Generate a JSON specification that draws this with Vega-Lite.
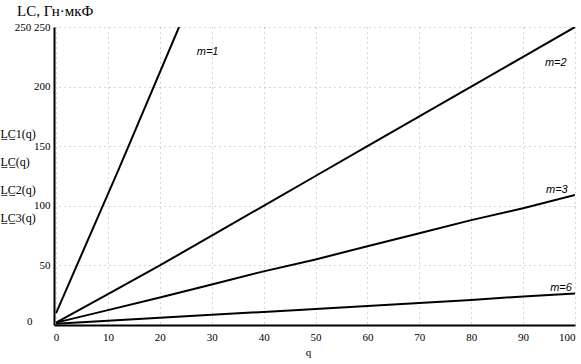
{
  "$schema": "https://vega.github.io/schema/vega-lite/v6.json",
  "width": 521,
  "height": 298,
  "autosize": {"type": "none"},
  "padding": {"left": 54, "top": 27, "right": 6, "bottom": 39},
  "background": "white",
  "title": {
    "text": "LC, Гн·мкФ",
    "anchor": "start",
    "frame": "group",
    "dx": -37,
    "offset": -10,
    "font": "Liberation Serif",
    "fontSize": 15,
    "fontWeight": "normal",
    "color": "black",
    "baseline": "alphabetic"
  },
  "config": {
    "view": {"stroke": null},
    "axis": {
      "labelFont": "Liberation Serif",
      "labelFontSize": 11,
      "labelColor": "black",
      "titleFont": "Liberation Serif",
      "titleFontWeight": "normal",
      "titleColor": "black",
      "domainColor": "black",
      "domainWidth": 2,
      "ticks": false,
      "gridColor": "#777",
      "gridDash": [1, 4],
      "gridWidth": 1,
      "gridOpacity": 0.6
    }
  },
  "datasets": {
    "curves": [
      {"m": "m=1", "q": 0, "LC": 10},
      {"m": "m=1", "q": 12, "LC": 130},
      {"m": "m=1", "q": 23.7, "LC": 250},
      {"m": "m=2", "q": 0, "LC": 2},
      {"m": "m=2", "q": 10, "LC": 26},
      {"m": "m=2", "q": 20, "LC": 50},
      {"m": "m=2", "q": 30, "LC": 75},
      {"m": "m=2", "q": 40, "LC": 100},
      {"m": "m=2", "q": 50, "LC": 125},
      {"m": "m=2", "q": 60, "LC": 150},
      {"m": "m=2", "q": 70, "LC": 175},
      {"m": "m=2", "q": 80, "LC": 200},
      {"m": "m=2", "q": 90, "LC": 225},
      {"m": "m=2", "q": 100, "LC": 250},
      {"m": "m=3", "q": 0, "LC": 2},
      {"m": "m=3", "q": 10, "LC": 12.5},
      {"m": "m=3", "q": 20, "LC": 23},
      {"m": "m=3", "q": 30, "LC": 34},
      {"m": "m=3", "q": 40, "LC": 45},
      {"m": "m=3", "q": 50, "LC": 55},
      {"m": "m=3", "q": 60, "LC": 66},
      {"m": "m=3", "q": 70, "LC": 77},
      {"m": "m=3", "q": 80, "LC": 88},
      {"m": "m=3", "q": 90, "LC": 98},
      {"m": "m=3", "q": 100, "LC": 109},
      {"m": "m=6", "q": 0, "LC": 1},
      {"m": "m=6", "q": 10, "LC": 3.5},
      {"m": "m=6", "q": 20, "LC": 6},
      {"m": "m=6", "q": 30, "LC": 8.5},
      {"m": "m=6", "q": 40, "LC": 11},
      {"m": "m=6", "q": 50, "LC": 13.5},
      {"m": "m=6", "q": 60, "LC": 16},
      {"m": "m=6", "q": 70, "LC": 18.5},
      {"m": "m=6", "q": 80, "LC": 21},
      {"m": "m=6", "q": 90, "LC": 24},
      {"m": "m=6", "q": 100, "LC": 26.5}
    ],
    "labels": [
      {"m": "m=1", "q": 29.2, "LC": 229},
      {"m": "m=2", "q": 96.3, "LC": 220},
      {"m": "m=3", "q": 96.5, "LC": 113},
      {"m": "m=6", "q": 97.3, "LC": 31}
    ]
  },
  "layer": [
    {
      "data": {"name": "curves"},
      "mark": {"type": "line", "color": "black", "strokeWidth": 2, "clip": true},
      "encoding": {
        "x": {
          "field": "q",
          "type": "quantitative",
          "scale": {"domain": [-0.4, 100], "nice": false, "zero": false},
          "axis": {
            "values": [0, 10, 20, 30, 40, 50, 60, 70, 80, 90, 100],
            "labelPadding": 6,
            "labelFlush": true,
            "title": "q",
            "titleFontSize": 11,
            "titlePadding": 4,
            "titleX": 254,
            "grid": true
          }
        },
        "y": {
          "field": "LC",
          "type": "quantitative",
          "scale": {"domain": [0, 250], "nice": false},
          "axis": {
            "values": [0, 50, 100, 150, 200, 250],
            "labelExpr": "datum.value == 250 ? '250 250' : datum.label",
            "labelPadding": {"condition": {"test": "datum.value == 0", "value": 22}, "value": 4},
            "labelOffset": {"condition": {"test": "datum.value == 0", "value": -4}, "value": 0},
            "labelFlush": false,
            "grid": true,
            "title": ["L̲C̲1(q)", "L̲C̲(q)", "L̲C̲2(q)", "L̲C̲3(q)"],
            "titleAngle": 0,
            "titleAlign": "left",
            "titleBaseline": "top",
            "titleX": -54,
            "titleY": 101,
            "titleFontSize": 12,
            "titleLineHeight": 28
          }
        },
        "detail": {"field": "m"}
      }
    },
    {
      "data": {"name": "labels"},
      "mark": {
        "type": "text",
        "font": "Liberation Sans",
        "fontSize": 11,
        "fontStyle": "italic",
        "color": "black",
        "align": "center",
        "baseline": "middle"
      },
      "encoding": {
        "x": {"field": "q", "type": "quantitative"},
        "y": {"field": "LC", "type": "quantitative"},
        "text": {"field": "m"}
      }
    }
  ]
}
